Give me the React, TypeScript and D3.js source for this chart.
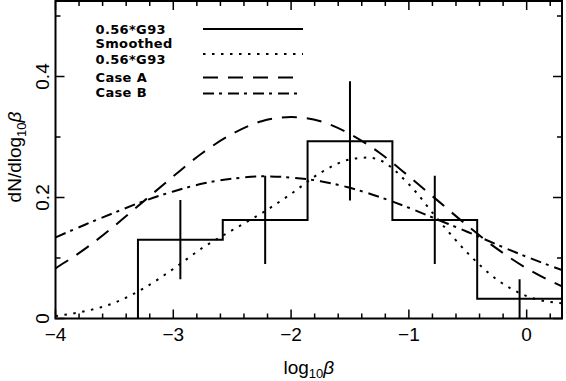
import React from "react";
import * as d3 from "d3";

// ---- data ----
const binEdges = [-3.3, -2.58, -1.86, -1.14, -0.42, 0.3];
const histHeights = [0.130, 0.163, 0.293, 0.163, 0.0326];
const errLow = [0.065, 0.090, 0.195, 0.090, 0.0];
const errHigh = [0.196, 0.236, 0.392, 0.236, 0.065];

const curveX = [-4, -3.75, -3.5, -3.25, -3, -2.75, -2.5, -2.25, -2, -1.75, -1.5, -1.25, -1, -0.75, -0.5, -0.25, 0, 0.3];
const caseA = [0.083, 0.115, 0.153, 0.194, 0.235, 0.274, 0.305, 0.326, 0.333, 0.326, 0.305, 0.274, 0.235, 0.194, 0.153, 0.115, 0.083, 0.053];
const caseB = [0.134, 0.155, 0.175, 0.194, 0.210, 0.223, 0.231, 0.235, 0.233, 0.227, 0.216, 0.201, 0.183, 0.163, 0.143, 0.122, 0.102, 0.080];

const smoothX = [-4, -3.75, -3.5, -3.25, -3, -2.75, -2.5, -2.25, -2, -1.75, -1.5, -1.35, -1.25, -1, -0.75, -0.5, -0.25, 0, 0.3];
const smoothY = [0.004, 0.012, 0.026, 0.050, 0.082, 0.117, 0.146, 0.174, 0.206, 0.241, 0.263, 0.266, 0.262, 0.222, 0.163, 0.108, 0.064, 0.037, 0.025];

const xMajor = [-4, -3, -2, -1, 0];
const xMajorLabels = ["\u22124", "\u22123", "\u22122", "\u22121", "0"];
const yMajor = [0, 0.2, 0.4];
const yMajorLabels = ["0", "0.2", "0.4"];

const legendLabels = [["0.56*G93"], ["Smoothed", "0.56*G93"], ["Case A"], ["Case B"]];

const W = 566, H = 381;
const L = 55.5, R = 562, T = 1, B = 318.5;

const x = d3.scaleLinear().domain([-4, 0.3]).range([L, R]);
const y = d3.scaleLinear().domain([0, 0.5248]).range([B, T]);

const styles = {
  solid: "",
  dotted: "2.5,6.5",
  dashed: "15,10",
  dashdot: "11,5,3,6",
};

export default function App() {
  const line = d3.line<[number, number]>().x(d => x(d[0])).y(d => y(d[1])).curve(d3.curveMonotoneX);
  const pA = line(curveX.map((v, i) => [v, caseA[i]]) as [number, number][]) || "";
  const pB = line(curveX.map((v, i) => [v, caseB[i]]) as [number, number][]) || "";
  const pS = line(smoothX.map((v, i) => [v, smoothY[i]]) as [number, number][]) || "";

  // histogram step path
  let hp = `M${x(binEdges[0])},${y(0)}`;
  histHeights.forEach((h, i) => {
    hp += `L${x(binEdges[i])},${y(h)}L${x(binEdges[i + 1])},${y(h)}`;
    if (i < histHeights.length - 1) hp += `L${x(binEdges[i + 1])},${y(histHeights[i + 1])}`;
  });
  hp += `L${x(binEdges[binEdges.length - 1])},${y(0)}`;

  const xMinor = d3.range(-4, 0.3001, 0.2).filter(v => Math.abs(v - Math.round(v)) > 0.01);
  const yMinor = [0.1, 0.3, 0.5];

  const font = "'Liberation Sans', Arial, sans-serif";
  const legFont = "'DejaVu Sans', sans-serif";

  const legendY = [29, 54, 77.5, 93.5];
  const legendStyles = [styles.solid, styles.dotted, styles.dashed, styles.dashdot];
  const textBaselines = [[34], [48.4], [63.8], [81.5], [96.5]];
  const flatLabels = legendLabels.flat();

  return (
    <div style={{ position: "absolute", left: 0, top: 0 }}>
      <svg width={W} height={H} style={{ display: "block", background: "#fff" }}>
        <defs>
          <clipPath id="plot">
            <rect x={L} y={T} width={R - L} height={B - T} />
          </clipPath>
        </defs>
        <rect x={0} y={0} width={W} height={H} fill="#fff" />
        <g clipPath="url(#plot)" fill="none" stroke="#000" strokeWidth={2}>
          <path d={hp} />
          {histHeights.map((h, i) => {
            const c = (binEdges[i] + binEdges[i + 1]) / 2;
            return <line key={i} x1={x(c)} x2={x(c)} y1={y(errLow[i])} y2={y(errHigh[i])} />;
          })}
          <path d={pS} strokeDasharray={styles.dotted} />
          <path d={pA} strokeDasharray={styles.dashed} />
          <path d={pB} strokeDasharray={styles.dashdot} />
        </g>
        {/* frame */}
        <rect x={L} y={T} width={R - L} height={B - T} fill="none" stroke="#000" strokeWidth={2} />
        {/* ticks */}
        <g stroke="#000" strokeWidth={1.5}>
          {xMajor.map(v => (
            <g key={"xm" + v}>
              <line x1={x(v)} x2={x(v)} y1={B} y2={B - 9} />
              <line x1={x(v)} x2={x(v)} y1={T} y2={T + 9} />
            </g>
          ))}
          {xMinor.map(v => (
            <g key={"xn" + v}>
              <line x1={x(v)} x2={x(v)} y1={B} y2={B - 5} />
              <line x1={x(v)} x2={x(v)} y1={T} y2={T + 5} />
            </g>
          ))}
          {yMajor.map(v => (
            <g key={"ym" + v}>
              <line x1={L} x2={L + 9} y1={y(v)} y2={y(v)} />
              <line x1={R} x2={R - 9} y1={y(v)} y2={y(v)} />
            </g>
          ))}
          {yMinor.map(v => (
            <g key={"yn" + v}>
              <line x1={L} x2={L + 5} y1={y(v)} y2={y(v)} />
              <line x1={R} x2={R - 5} y1={y(v)} y2={y(v)} />
            </g>
          ))}
        </g>
        {/* tick labels */}
        <g fontFamily={font} fontSize={19} fill="#000">
          {xMajor.map((v, i) => (
            <text key={"xl" + v} x={x(v)} y={340.5} textAnchor="middle">{xMajorLabels[i]}</text>
          ))}
          {yMajor.map((v, i) => (
            <text key={"yl" + v} transform={`translate(48.5,${y(v)}) rotate(-90)`} textAnchor="middle">{yMajorLabels[i]}</text>
          ))}
        </g>
        {/* axis labels */}
        <text x={(L + R) / 2} y={373.5} textAnchor="middle" fontFamily={font} fontSize={19}>
          log<tspan fontSize={13} dy={4}>10</tspan><tspan dy={-4} fontStyle="italic">β</tspan>
        </text>
        <text transform={`translate(21,157) rotate(-90)`} textAnchor="middle" fontFamily={font} fontSize={19}>
          dN/dlog<tspan fontSize={13} dy={5}>10</tspan><tspan dy={-5} fontStyle="italic">β</tspan>
        </text>
        {/* legend */}
        <g fontFamily={legFont} fontWeight="bold" fontSize={13} letterSpacing={0.35}>
          {flatLabels.map((t, i) => (
            <text key={"lt" + i} x={95.5} y={textBaselines[i][0]}>{t}</text>
          ))}
        </g>
        <g stroke="#000" strokeWidth={2}>
          {legendStyles.map((s, i) => (
            <line key={"ll" + i} x1={203} x2={303} y1={legendY[i]} y2={legendY[i]} strokeDasharray={s || undefined} />
          ))}
        </g>
      </svg>
    </div>
  );
}
